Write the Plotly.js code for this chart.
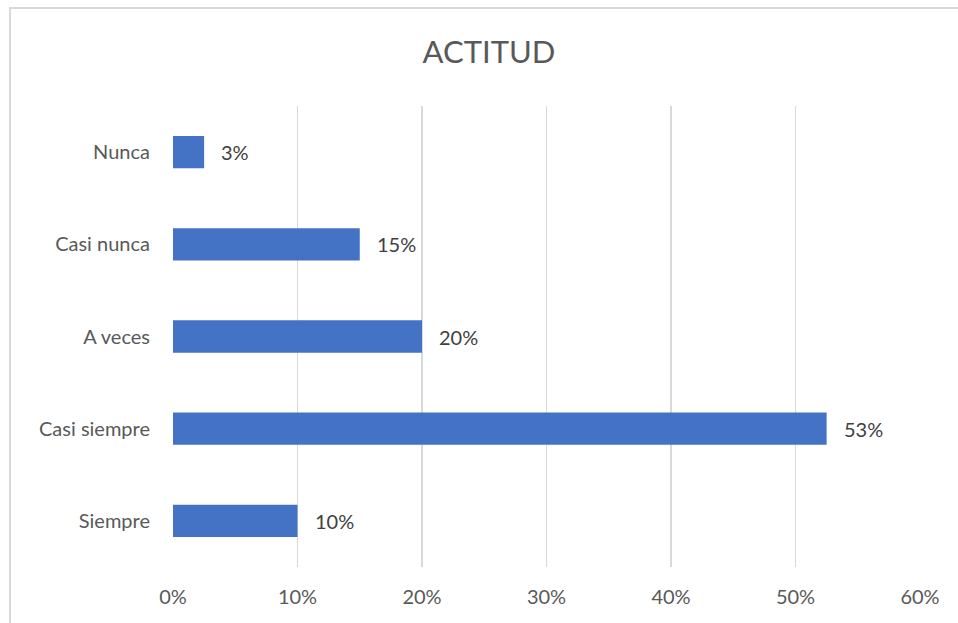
<!DOCTYPE html>
<html>
<head>
<meta charset="utf-8">
<script src="https://cdn.plot.ly/plotly-3.0.1.min.js"></script>
<style>
  html, body { margin: 0; padding: 0; background: #fff; overflow: hidden; }
  #chart { width: 958px; height: 623px; position: absolute; left: 0; top: 0; }
  #frame { position: absolute; left: 9px; top: 7px; width: 1200px; height: 1200px;
           border-left: 2px solid #d9d9d9; border-top: 2px solid #d9d9d9; pointer-events: none; }
</style>
</head>
<body>
<div id="chart"></div>
<div id="frame"></div>
<script>
// Categories listed bottom to top (as drawn on the y axis)
const categories = ["Siempre", "Casi siempre", "A veces", "Casi nunca", "Nunca"];
const values = [0.10, 0.525, 0.20, 0.15, 0.025];
const labels = ["10%", "53%", "20%", "15%", "3%"];
const tickVals = [0, 0.1, 0.2, 0.3, 0.4, 0.5, 0.6];
const tickText = ["0%", "10%", "20%", "30%", "40%", "50%", "60%"];
const chartTitle = "ACTITUD";

const FONT = "Lato, 'Open Sans', sans-serif";

const trace = {
  type: "bar",
  orientation: "h",
  y: categories,
  x: values,
  marker: { color: "#4472C4" },
  width: 0.35,
  hoverinfo: "none"
};

const annotations = categories.map((c, i) => ({
  x: values[i], y: c, xref: "x", yref: "y",
  text: labels[i], showarrow: false,
  xanchor: "left", yanchor: "middle", xshift: 15,
  font: { family: FONT, size: 20, color: "#404040" }
}));

const layout = {
  width: 958, height: 623,
  margin: { l: 173, r: 38, t: 106, b: 56 },
  paper_bgcolor: "#ffffff",
  plot_bgcolor: "#ffffff",
  showlegend: false,
  title: {
    text: chartTitle,
    font: { family: FONT, size: 31, color: "#595959" },
    x: 489 / 958, xref: "container", xanchor: "center",
    y: 1 - 52 / 623, yref: "container", yanchor: "middle"
  },
  xaxis: {
    range: [0, 0.6],
    tickvals: tickVals,
    ticktext: tickText,
    showgrid: true, gridcolor: "#d9d9d9", gridwidth: 1.5,
    zeroline: false, showline: false,
    ticks: "", ticklabelstandoff: 16,
    tickfont: { family: FONT, size: 20, color: "#595959" },
    fixedrange: true
  },
  yaxis: {
    type: "category",
    categoryorder: "array",
    categoryarray: categories,
    showgrid: false, zeroline: false, showline: false,
    ticks: "", ticklabelstandoff: 22,
    tickfont: { family: FONT, size: 20, color: "#595959" },
    fixedrange: true
  },
  annotations: annotations
};

Plotly.newPlot("chart", [trace], layout, { displayModeBar: false, staticPlot: true });
</script>
</body>
</html>
